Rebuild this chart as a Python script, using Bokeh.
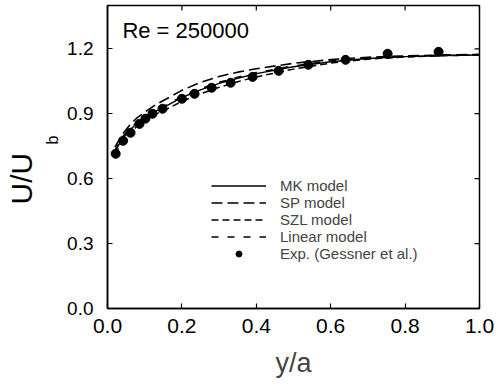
import math
from bokeh.plotting import figure
from bokeh.models import Range1d, FixedTicker, Label, Legend, LegendItem, Title
from bokeh.embed import file_html
from bokeh.resources import INLINE

# ---- data ----
x_model = [0.02, 0.04, 0.06, 0.08, 0.10, 0.13, 0.16, 0.20, 0.25, 0.30, 0.35, 0.40, 0.50, 0.60, 0.70, 0.80, 0.90, 1.00]
mk_model = [0.725, 0.785, 0.825, 0.857, 0.882, 0.912, 0.937, 0.975, 1.010, 1.040, 1.064, 1.085, 1.117, 1.140, 1.155, 1.164, 1.169, 1.171]
sp_model = [0.745, 0.805, 0.848, 0.882, 0.907, 0.942, 0.970, 1.008, 1.045, 1.072, 1.092, 1.108, 1.133, 1.150, 1.161, 1.167, 1.171, 1.174]
szl_model = [0.712, 0.772, 0.812, 0.843, 0.868, 0.898, 0.922, 0.957, 0.992, 1.022, 1.048, 1.070, 1.106, 1.134, 1.152, 1.162, 1.168, 1.171]
linear_model = [0.730, 0.792, 0.832, 0.862, 0.887, 0.917, 0.942, 0.980, 1.015, 1.045, 1.069, 1.090, 1.121, 1.144, 1.158, 1.166, 1.170, 1.172]

x_exp = [0.022, 0.042, 0.062, 0.086, 0.102, 0.121, 0.148, 0.200, 0.234, 0.280, 0.331, 0.390, 0.460, 0.540, 0.640, 0.753, 0.890]
u_exp = [0.715, 0.775, 0.812, 0.853, 0.877, 0.900, 0.923, 0.969, 0.992, 1.020, 1.043, 1.070, 1.098, 1.126, 1.149, 1.177, 1.186]

x_ticks = [0.0, 0.2, 0.4, 0.6, 0.8, 1.0]
y_ticks = [0.0, 0.3, 0.6, 0.9, 1.2]
X_MIN, X_MAX = 0.0, 1.0
Y_MIN, Y_MAX = 0.0, 1.4

FONT = "Liberation Sans"

p = figure(width=498, height=392, output_backend="svg", toolbar_location=None,
           x_range=Range1d(X_MIN, X_MAX), y_range=Range1d(Y_MIN, Y_MAX),
           min_border_left=107, min_border_right=19, min_border_top=5, min_border_bottom=84)
p.grid.visible = False
p.background_fill_color = "white"
p.border_fill_color = "white"
p.outline_line_color = "black"
p.outline_line_width = 1.5

for ax in [p.xaxis[0], p.yaxis[0]]:
    ax.major_tick_in = 5
    ax.major_tick_out = 0
    ax.minor_tick_line_color = None
    ax.axis_line_width = 1.5
    ax.major_tick_line_width = 1.2
    ax.major_label_text_font = FONT
    ax.major_label_text_color = "black"
p.xaxis[0].major_label_text_font_size = "21px"
p.yaxis[0].major_label_text_font_size = "19px"
p.xaxis[0].ticker = FixedTicker(ticks=x_ticks)
p.yaxis[0].ticker = FixedTicker(ticks=y_ticks)
p.xaxis[0].major_label_standoff = 10
p.yaxis[0].major_label_standoff = 14
p.xaxis[0].major_label_overrides = {t: f"{t:.1f}" for t in x_ticks}
p.yaxis[0].major_label_overrides = {t: f"{t:.1f}" for t in y_ticks}
p.xaxis[0].axis_label = "y/a"
p.xaxis[0].axis_label_text_font = FONT
p.xaxis[0].axis_label_text_font_size = "27px"
p.xaxis[0].axis_label_text_font_style = "normal"
p.xaxis[0].axis_label_standoff = 12

# mirrored inward ticks on top and right edges (markers clipped by the frame)
p.scatter(x_ticks, [Y_MAX] * len(x_ticks), marker="dash", angle=math.pi / 2, size=10,
          line_color="black", line_width=1.2)
p.scatter([X_MAX] * len(y_ticks), y_ticks, marker="dash", size=10,
          line_color="black", line_width=1.2)

r_mk = p.line(x_model, mk_model, line_color="black", line_width=1.4)
r_sp = p.line(x_model, sp_model, line_color="black", line_width=1.6, line_dash="11 5")
r_szl = p.line(x_model, szl_model, line_color="black", line_width=1.5, line_dash="7 4")
r_lin = p.line(x_model, linear_model, line_color="black", line_width=1.5, line_dash="7 9")
r_exp = p.scatter(x_exp, u_exp, size=9, marker="circle", fill_color="black", line_color="black")

legend = Legend(items=[
    LegendItem(label="MK model", renderers=[r_mk]),
    LegendItem(label="SP model", renderers=[r_sp]),
    LegendItem(label="SZL model", renderers=[r_szl]),
    LegendItem(label="Linear model", renderers=[r_lin]),
    LegendItem(label="Exp. (Gessner et al.)", renderers=[r_exp]),
], location=(104, 46), border_line_color=None, background_fill_alpha=0,
    padding=0, margin=0, spacing=0, glyph_width=55, glyph_height=15, label_height=15,
    label_standoff=14, label_text_font=FONT, label_text_font_size="15px",
    label_text_line_height=1.0)
p.add_layout(legend, "center")

p.add_layout(Label(x=0.04, y=1.228, text="Re = 250000", text_font=FONT,
                   text_font_size="22px", text_color="black"))

# y-axis label U/U_b as two stacked side titles (inner: subscript, outer: main)
p.add_layout(Title(text="b", align="left", offset=164, standoff=8,
                   text_font=FONT, text_font_size="16px", text_font_style="normal",
                   text_color="black"), "left")
p.add_layout(Title(text="U/U", align="left", offset=104, standoff=0,
                   text_font=FONT, text_font_size="30px", text_font_style="normal",
                   text_color="black"), "left")

open("out.html", "w").write(file_html(p, INLINE))
